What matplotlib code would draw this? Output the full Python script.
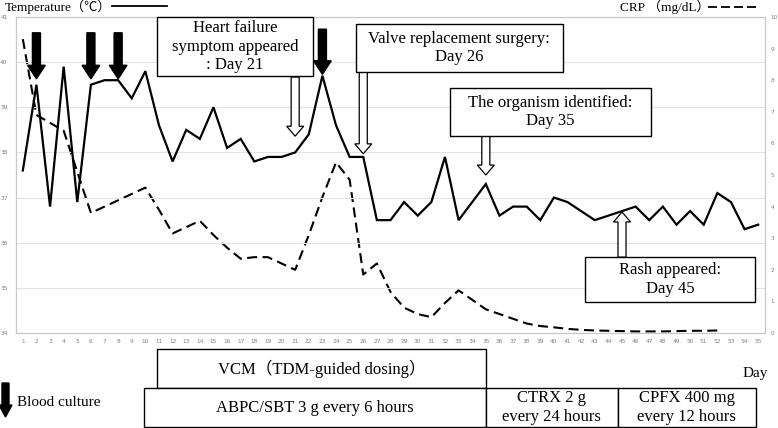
import matplotlib
matplotlib.use('Agg')
import matplotlib.pyplot as plt
import matplotlib.transforms as mtransforms
from matplotlib.patches import FancyArrow, Rectangle
from matplotlib.lines import Line2D
import numpy as np

# 体温 (day 1-55)
temp = [37.6, 39.5, 36.8, 39.9, 36.9, 39.5, 39.6, 39.6, 39.2, 39.8,
        38.6, 37.8, 38.5, 38.3, 39.0, 38.1, 38.3, 37.8, 37.9, 37.9,
        38.0, 38.4, 39.7, 38.6, 37.9, 37.9, 36.5, 36.5, 36.9, 36.6,
        36.9, 37.9, 36.5, 36.9, 37.3, 36.6, 36.8, 36.8, 36.5, 37.0,
        36.9, 36.7, 36.5, 36.6, 36.7, 36.8, 36.5, 36.8, 36.4, 36.7,
        36.4, 37.1, 36.9, 36.3, 36.4]
# CRP (day 1-52)
crp = [9.3, 6.9, 6.65, 6.4, 5.1, 3.8, 4.0, 4.2, 4.4, 4.6,
       3.9, 3.15, 3.35, 3.55, 3.1, 2.7, 2.35, 2.4, 2.4, 2.2,
       2.0, 3.1, 4.3, 5.4, 4.85, 1.85, 2.2, 1.3, 0.8, 0.6,
       0.5, 0.95, 1.35, 1.05, 0.75, 0.6, 0.45, 0.3, 0.22, 0.18,
       0.13, 0.1, 0.08, 0.07, 0.06, 0.05, 0.05, 0.05, 0.06, 0.07,
       0.07, 0.08]
days_t = np.arange(1, len(temp) + 1)
days_c = np.arange(1, len(crp) + 1)

culture_days = [2, 6, 8, 23]
event_days = [21, 26, 35, 45]
event_texts = ['Heart failure\nsymptom appeared\n: Day 21',
               'Valve replacement surgery:\nDay 26',
               'The organism identified:\nDay 35',
               'Rash appeared:\nDay 45']

drug_names = ['VCM（TDM-guided dosing）', 'ABPC/SBT 3 g every 6 hours',
              'CTRX 2 g\nevery 24 hours', 'CPFX 400 mg\nevery 12 hours']
drug_start = [10.85, 9.9, 35.0, 44.7]
drug_end = [35.0, 35.0, 44.7, 54.83]
drug_row = [0, 1, 1, 1]

serif = ['Liberation Serif', 'Noto Sans CJK JP']
tick_c = '#808080'
spine_c = '#c8c8c8'

fig = plt.figure(figsize=(7.78, 4.28), dpi=100)
ax = fig.add_axes([16 / 778, 1 - 333 / 428, 749 / 778, 316 / 428])
ax2 = ax.twinx()
ax.set_zorder(ax2.get_zorder() + 1)
ax.patch.set_visible(False)

ax2.plot(days_c, crp, color='k', lw=1.5, linestyle=(0, (4.8, 2.6)))
ax.plot(days_t, temp, color='k', lw=1.6, solid_joinstyle='miter')

ax.set_xlim(0.5, 55.5)
ax.set_ylim(34, 41)
ax2.set_ylim(0, 10)
ax.set_xticks(days_t)
ax.set_yticks(range(34, 42))
ax2.set_yticks(range(0, 11))
ax.yaxis.grid(True, color='#e3e3e3', lw=0.8)
ax.tick_params(axis='both', length=0, labelsize=4.2, labelcolor=tick_c)
ax.tick_params(axis='y', pad=6)
ax.tick_params(axis='x', pad=4)
ax2.tick_params(axis='y', length=0, labelsize=4.2, labelcolor=tick_c, pad=4)
for a in (ax, ax2):
    for s in a.spines.values():
        s.set_color(spine_c)
        s.set_linewidth(0.8)

# 血液培养 arrows
for d in culture_days:
    top = 40.73 if d == 23 else 40.65
    tip = 39.73 if d == 23 else 39.63
    ax.add_patch(FancyArrow(d, top, 0, tip - top, width=0.59, head_width=1.3,
                            head_length=0.3, length_includes_head=True,
                            color='k', clip_on=False, zorder=5))

# 事件 boxes + hollow arrows
boxes = [(10.85, 22.3, 39.69, 41.0), (25.46, 40.66, 39.78, 40.845),
         (32.37, 47.12, 38.36, 39.43), (42.28, 54.76, 34.69, 35.68)]
arrow_from = [39.67, 39.78, 38.36, 35.68]
arrow_to = [38.36, 37.97, 37.5, 36.68]
for d, txt, b, y0, y1 in zip(event_days, event_texts, boxes, arrow_from, arrow_to):
    ax.add_patch(FancyArrow(d, y0, 0, y1 - y0, width=0.59, head_width=1.25,
                            head_length=0.22, length_includes_head=True,
                            fc='white', ec='k', lw=0.9, zorder=6))
    ax.add_patch(Rectangle((b[0], b[2]), b[1] - b[0], b[3] - b[2], fc='white',
                           ec='k', lw=1.0, zorder=7, clip_on=False))
    ax.text((b[0] + b[1]) / 2, (b[2] + b[3]) / 2, txt, ha='center', va='center',
            fontsize=12, family=serif, linespacing=1.22, zorder=8)

# 治疗 boxes
tr = mtransforms.blended_transform_factory(ax.transData, fig.transFigure)
row_y = [1 - 388 / 428, 1 - 427 / 428]
row_h = 39 / 428
for name, s, e, r in zip(drug_names, drug_start, drug_end, drug_row):
    fig.add_artist(Rectangle((s, row_y[r]), e - s, row_h, transform=tr,
                             fc='white', ec='k', lw=1.0, clip_on=False))
    fig.text((s + e) / 2, row_y[r] + row_h / 2, name, transform=tr,
             ha='center', va='center', fontsize=12, family=serif,
             linespacing=1.2)

fig.text(755 / 778, 1 - 373 / 428, 'Day', ha='center', va='center',
         fontsize=11, family=serif)

# legends
fig.text(5 / 778, 1 - 7 / 428, 'Temperature（℃）', ha='left', va='center',
         fontsize=9.5, family=serif)
fig.add_artist(Line2D([112 / 778, 167 / 778], [1 - 6 / 428, 1 - 6 / 428],
                      color='k', lw=1.3))
fig.text(620 / 778, 1 - 7 / 428, 'CRP （mg/dL）', ha='left', va='center',
         fontsize=9.5, family=serif)
fig.add_artist(Line2D([708 / 778, 757 / 778], [1 - 7 / 428, 1 - 7 / 428],
                      color='k', lw=1.3, linestyle=(0, (5, 2.2))))

fig.add_artist(FancyArrow(5.5 / 778, 1 - 383 / 428, 0, -34 / 428,
                          width=7 / 778, head_width=13 / 778, head_length=12 / 428,
                          length_includes_head=True, color='k',
                          transform=fig.transFigure))
fig.text(17 / 778, 1 - 403 / 428, 'Blood culture', ha='left', va='center',
         fontsize=11, family=serif)

fig.savefig('out.png', dpi=100)
